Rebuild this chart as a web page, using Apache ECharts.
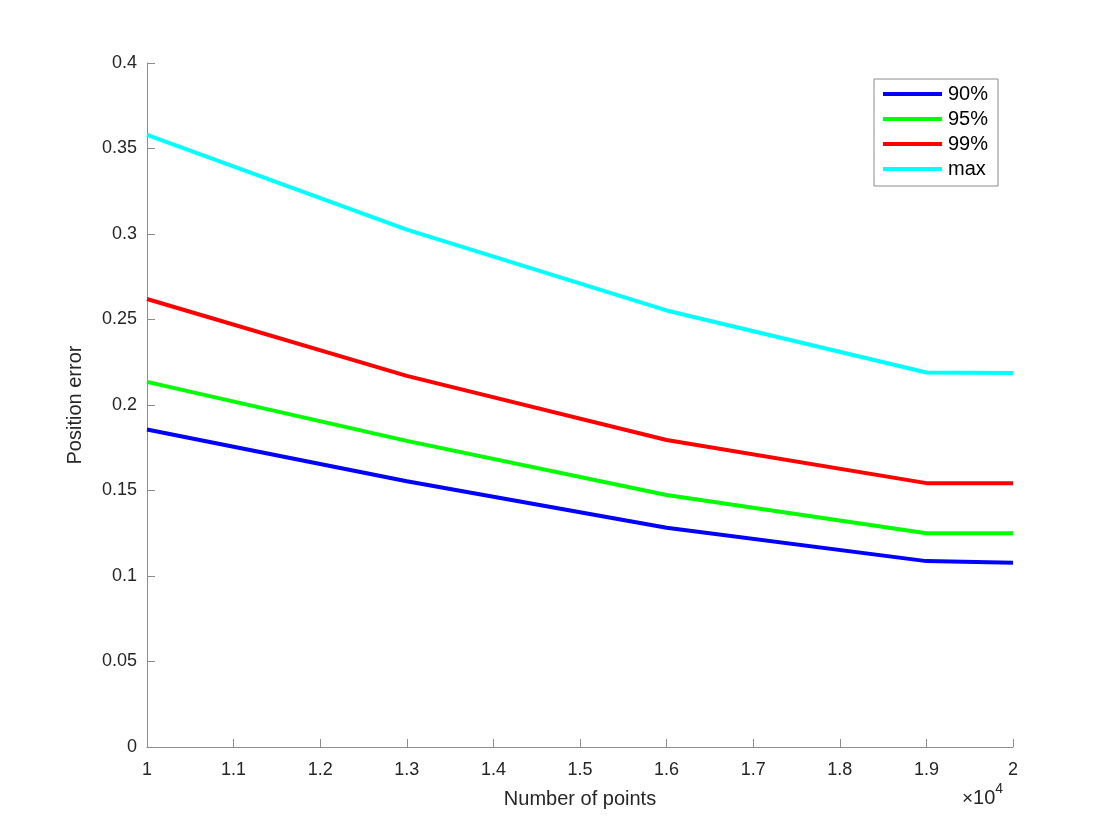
<!DOCTYPE html>
<html>
<head>
<meta charset="utf-8">
<script src="https://cdn.jsdelivr.net/npm/echarts@6/dist/echarts.min.js"></script>
<style>
  html, body { margin: 0; padding: 0; background: #fff; }
  #main { width: 1120px; height: 840px; }
</style>
</head>
<body>
<div id="main"></div>
<script>
// number of points (x values)
var points = [10000, 13000, 16000, 19000, 20000];
// position error per percentile
var err90 = [0.1857, 0.1554, 0.1282, 0.1087, 0.1077];
var err95 = [0.2135, 0.1790, 0.1474, 0.1250, 0.1250];
var err99 = [0.2620, 0.2170, 0.1795, 0.1543, 0.1543];
var errMax = [0.3580, 0.3026, 0.2553, 0.2190, 0.2187];
var seriesNames = ['90%', '95%', '99%', 'max'];

var font = '"Liberation Sans", Arial, Helvetica, sans-serif';
var axisGray = '#8c8c8c';
var textDark = '#262626';

function pairs(ys) {
    return points.map(function (x, i) { return [x, ys[i]]; });
}

function line(name, ys, color) {
    return {
        name: name,
        type: 'line',
        data: pairs(ys),
        showSymbol: false,
        symbol: 'none',
        lineStyle: { color: color, width: 4 },
        itemStyle: { color: color },
        animation: false
    };
}

var chart = echarts.init(document.getElementById('main'));
chart.setOption({
    backgroundColor: '#fff',
    animation: false,
    grid: { left: 147, right: 107, top: 63, bottom: 93 },
    legend: {
        left: 874,
        top: 79,
        orient: 'vertical',
        data: seriesNames,
        icon: 'rect',
        itemWidth: 59,
        itemHeight: 4,
        itemGap: 5,
        padding: [5, 10, 7, 9],
        borderColor: axisGray,
        borderWidth: 1,
        backgroundColor: '#fff',
        textStyle: { fontFamily: font, fontSize: 20, color: '#000', lineHeight: 20, padding: [0, 0, 0, 1] }
    },
    xAxis: {
        type: 'value',
        min: 10000,
        max: 20000,
        interval: 1000,
        name: 'Number of points',
        nameLocation: 'middle',
        nameGap: 42,
        nameTextStyle: { fontFamily: font, fontSize: 20, color: textDark },
        axisLine: { show: true, onZero: false, lineStyle: { color: axisGray, width: 1 } },
        axisTick: { show: true, inside: true, length: 8, lineStyle: { color: axisGray } },
        axisLabel: {
            fontFamily: font, fontSize: 18, color: textDark, margin: 14,
            formatter: function (v) { return String(+(v / 10000).toFixed(1)); }
        },
        splitLine: { show: false }
    },
    yAxis: {
        type: 'value',
        min: 0,
        max: 0.4,
        interval: 0.05,
        name: 'Position error',
        nameLocation: 'middle',
        nameGap: 62,
        nameTextStyle: { fontFamily: font, fontSize: 20, color: textDark },
        axisLine: { show: true, lineStyle: { color: axisGray, width: 1 } },
        axisTick: { show: true, inside: true, length: 8, lineStyle: { color: axisGray } },
        axisLabel: {
            fontFamily: font, fontSize: 18, color: textDark, margin: 10,
            formatter: function (v) { return String(+v.toFixed(2)); }
        },
        splitLine: { show: false }
    },
    graphic: [{
        type: 'text',
        left: 962,
        top: 782,
        style: {
            text: '{x|×}{b|10}{s|4}',
            rich: {
                x: { fontFamily: font, fontSize: 19, fill: textDark, verticalAlign: 'bottom' },
                b: { fontFamily: font, fontSize: 20, fill: textDark, verticalAlign: 'bottom' },
                s: { fontFamily: font, fontSize: 14, fill: textDark, verticalAlign: 'top', padding: [0, 0, 12, 0] }
            }
        }
    }],
    series: [
        line(seriesNames[0], err90, '#0000ff'),
        line(seriesNames[1], err95, '#00ff00'),
        line(seriesNames[2], err99, '#ff0000'),
        line(seriesNames[3], errMax, '#00ffff')
    ]
});
</script>
</body>
</html>
